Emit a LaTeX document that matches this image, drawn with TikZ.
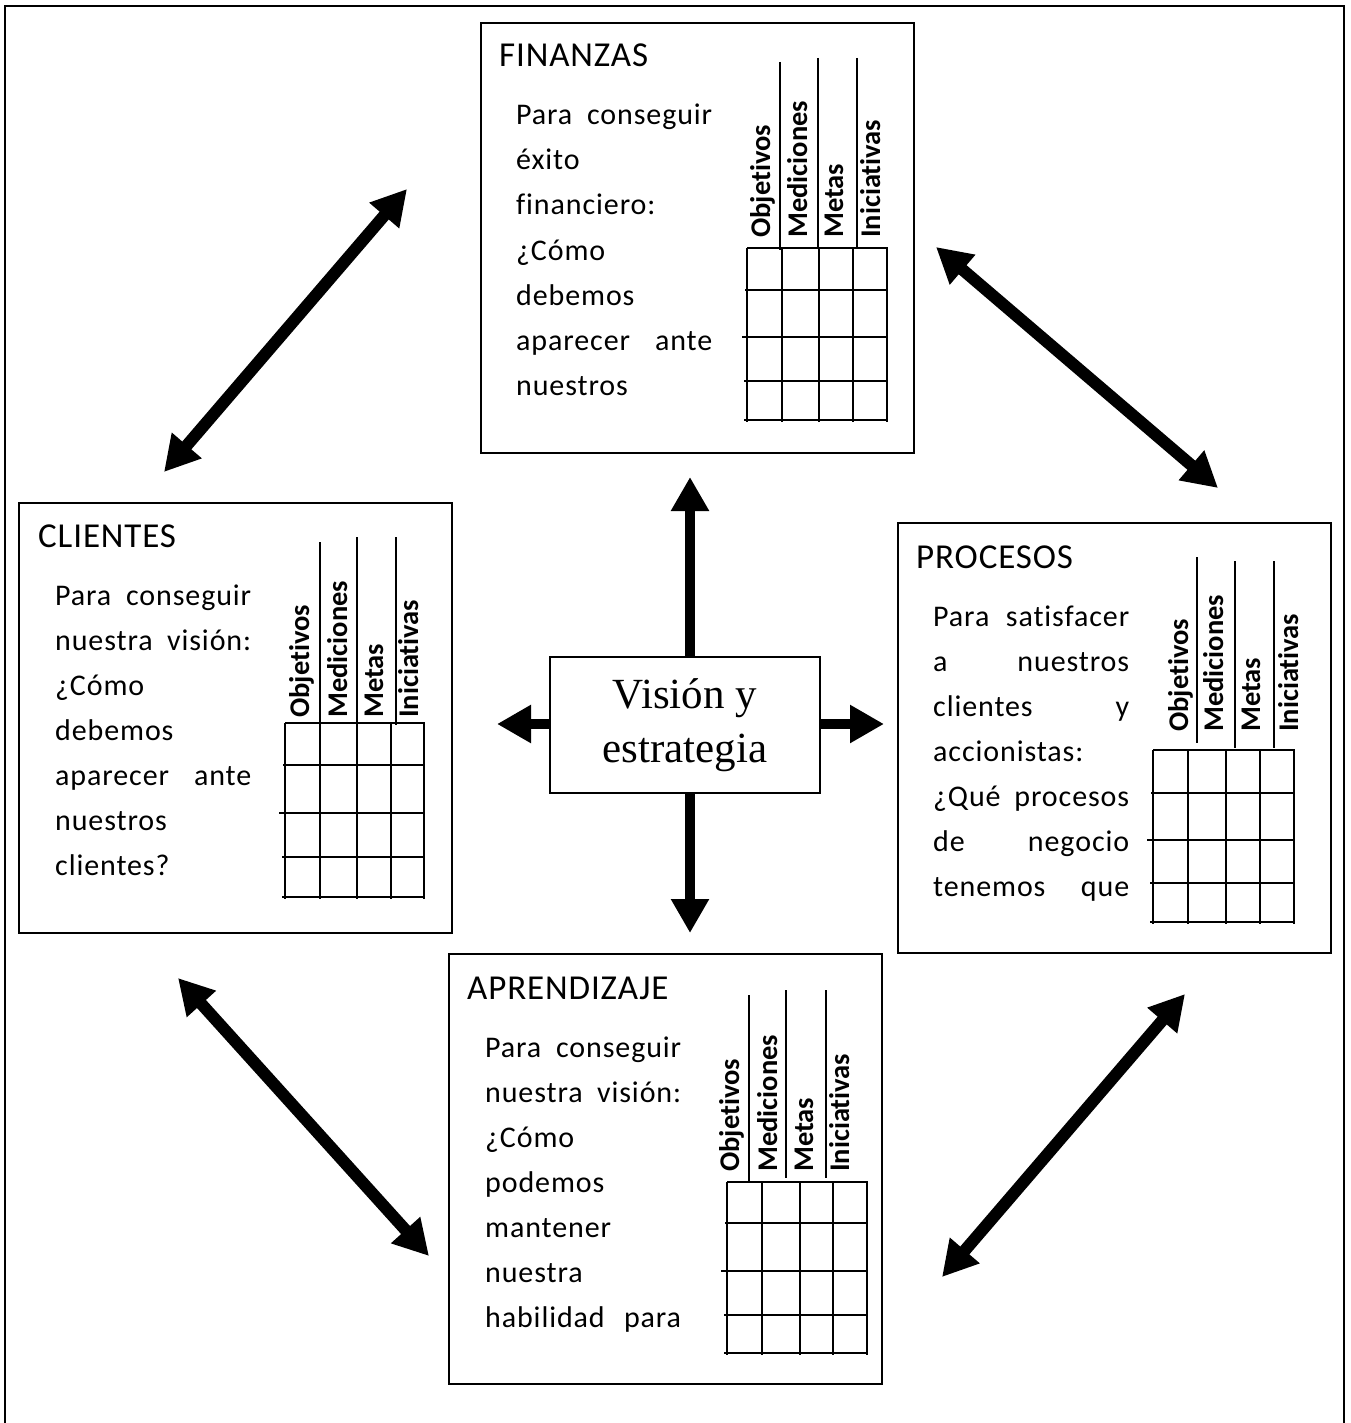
\documentclass[tikz,border=0pt]{standalone}
\usepackage{fontspec}
\setmainfont{Carlito}[Ligatures=NoCommon]
\newfontfamily\visfont{Liberation Serif}
\usetikzlibrary{arrows.meta}

% a justified two-word line of the question text
\newcommand\jline[2]{\hbox to 196pt{#1\hfill #2}}
% scorecard grid: columns, rows (y/left overhang), left, right, top, bottom
\newcommand\drawgrid[6]{%
  \foreach \c in {#1} \draw[gridline] (\c,#5) -- (\c,#6+2);
  \foreach \r/\o in {#2} \draw[gridline] (#3-\o,\r) -- (#4+1,\r);
}

\begin{document}
\begin{tikzpicture}[x=1pt,y=-1pt,
  panel/.style={draw, fill=white, line width=2pt, minimum width=433pt,
    minimum height=430pt, anchor=north west, inner sep=0pt},
  head/.style={inner sep=0pt, anchor=base west,
    font=\fontsize{35}{40}\selectfont\addfontfeature{LetterSpace=2.5}},
  bodytxt/.style={inner sep=0pt, anchor=base west,
    font=\fontsize{30}{45}\selectfont\addfontfeature{LetterSpace=3}},
  hdr/.style={inner sep=0pt, anchor=base west, rotate=90,
    font=\fontsize{28.5}{30}\selectfont\bfseries},
  gridline/.style={line width=1.8pt},
  bigarrow/.style={line width=10pt, -{Triangle[width=36pt,length=34pt]}},
  twoarrow/.style={line width=12pt,
    {Triangle[width=37pt,length=35pt]}-{Triangle[width=37pt,length=35pt]}},
]
\useasboundingbox (0,0) rectangle (1350,1423);
\clip (0,0) rectangle (1350,1423);

% outer frame
\draw[line width=2.5pt] (5,6) rectangle (1344,1450);

% ---------- FINANZAS ----------
\node[panel] (fin) at (480,22) {};
\node[head] (fin-title) at (499,67) {FINANZAS};
\foreach \txt [count=\i] in {{\jline{Para}{conseguir}}, éxito, financiero:,
    ¿Cómo, debemos, {\jline{aparecer}{ante}}, nuestros}
  \node[bodytxt] (fin-t\i) at (516,{125+45*(\i-1)}) {\txt};
\drawgrid{747,782,819,853,887}{248/0,290/2,337/5,381/3,420/3}{747}{887}{248}{420}
\foreach \s/\t/\b in {780/62/250, 818/58/247, 857/58/247}
  \draw[gridline] (\s,\t) -- (\s,\b);
\foreach \hx/\hn in {770/Objetivos, 807/Mediciones, 843/Metas, 880/Iniciativas}
  \node[hdr] (fin-\hn) at (\hx,238) {\hn};

% ---------- CLIENTES ----------
\node[panel] (cli) at (18,502) {};
\node[head] (cli-title) at (38,547) {CLIENTES};
\foreach \txt [count=\i] in {{\jline{Para}{conseguir}}, {\jline{nuestra}{visión:}},
    ¿Cómo, debemos, {\jline{aparecer}{ante}}, nuestros, clientes?}
  \node[bodytxt] (cli-t\i) at (55,{605+45*(\i-1)}) {\txt};
\drawgrid{285,320,357,391,424}{723/0,765/2,813/6,857/3,897/3}{285}{424}{723}{897}
\foreach \s/\t/\b in {320/542/730, 357/537/723, 396/537/725}
  \draw[gridline] (\s,\t) -- (\s,\b);
\foreach \hx/\hn in {309/Objetivos, 347/Mediciones, 383/Metas, 418/Iniciativas}
  \node[hdr] (cli-\hn) at (\hx,718) {\hn};

% ---------- PROCESOS ----------
\node[panel] (pro) at (897,522) {};
\node[head] (pro-title) at (916,568) {PROCESOS};
\foreach \txt [count=\i] in {{\jline{Para}{satisfacer}}, {\jline{a}{nuestros}},
    {\jline{clientes}{y}}, accionistas:, {\jline{¿Qué}{procesos}},
    {\jline{de}{negocio}}, {\jline{tenemos}{que}}}
  \node[bodytxt] (pro-t\i) at (933,{626+45*(\i-1)}) {\txt};
\drawgrid{1153,1188,1226,1260,1294}{750/0,793/2,840/6,883/3,922/3}{1153}{1294}{750}{922}
\foreach \s/\t/\b in {1197/557/743, 1235/561/748, 1274/561/748}
  \draw[gridline] (\s,\t) -- (\s,\b);
\foreach \hx/\hn in {1188/Objetivos, 1223/Mediciones, 1260/Metas, 1298/Iniciativas}
  \node[hdr] (pro-\hn) at (\hx,732) {\hn};

% ---------- APRENDIZAJE ----------
\node[panel] (apr) at (448,953) {};
\node[head] (apr-title) at (467,999) {APRENDIZAJE};
\foreach \txt [count=\i] in {{\jline{Para}{conseguir}}, {\jline{nuestra}{visión:}},
    ¿Cómo, podemos, mantener, nuestra, {\jline{habilidad}{para}}}
  \node[bodytxt] (apr-t\i) at (485,{1057+45*(\i-1)}) {\txt};
\drawgrid{727,762,800,833,867}{1182/0,1223/2,1271/6,1315/3,1353/3}{727}{867}{1182}{1353}
\foreach \s/\t/\b in {749/995/1182, 786/990/1178, 826/990/1178}
  \draw[gridline] (\s,\t) -- (\s,\b);
\foreach \hx/\hn in {739/Objetivos, 777/Mediciones, 813/Metas, 849/Iniciativas}
  \node[hdr] (apr-\hn) at (\hx,1172) {\hn};

% ---------- centre ----------
\node[draw, fill=white, line width=1.5pt, minimum width=270pt, minimum height=136pt,
  inner sep=0pt, align=center, font=\visfont\fontsize{43}{54}\selectfont]
  (vision) at (685,725) {Visión y\\estrategia};

\coordinate (upTip) at (690,477);
\coordinate (downTip) at (690,933);
\coordinate (rightTip) at (884,724);
\coordinate (leftTip) at (497,724);
\draw[bigarrow] (vision.north -| upTip) -- (upTip);
\draw[bigarrow] (vision.south -| downTip) -- (downTip);
\draw[bigarrow] (vision.east |- rightTip) -- (rightTip);
\draw[bigarrow] (vision.west |- leftTip) -- (leftTip);

% ---------- links between perspectives ----------
\coordinate (cliA) at (164,472);
\coordinate (finA) at (407,189);
\coordinate (finB) at (936,247);
\coordinate (proA) at (1218,488);
\coordinate (cliB) at (178,978);
\coordinate (aprA) at (429,1256);
\coordinate (aprB) at (942,1277);
\coordinate (proB) at (1185,994);
\draw[twoarrow] (cliA) -- (finA);
\draw[twoarrow] (finB) -- (proA);
\draw[twoarrow] (cliB) -- (aprA);
\draw[twoarrow] (aprB) -- (proB);
\end{tikzpicture}
\end{document}
